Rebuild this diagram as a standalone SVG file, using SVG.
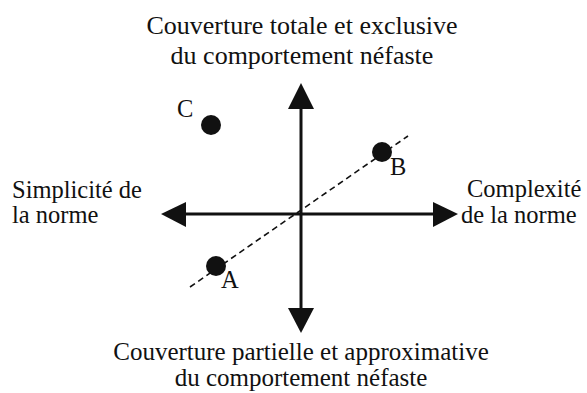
<svg xmlns="http://www.w3.org/2000/svg" width="587" height="393" viewBox="0 0 587 393">
<style>
text{font-family:"Liberation Serif","Times New Roman",serif;font-size:26px;fill:#111}
.side{font-size:24.5px}
.bot{font-size:25px}
.ax{stroke:#111;stroke-width:3;fill:none}
.hd{fill:#111}
.dot{fill:#111}
.dash{stroke:#111;stroke-width:1.6;stroke-dasharray:6,4;fill:none}
</style>
<rect width="587" height="393" fill="#fff"/>
<g id="connectors">
<line class="dash" x1="190" y1="287" x2="408" y2="136"/>
<line class="ax" x1="301" y1="105" x2="301" y2="312"/>
<line class="ax" x1="182" y1="214" x2="438" y2="214"/>
<polygon class="hd" points="301,83 288,109 314,109"/>
<polygon class="hd" points="301,333 288,308 314,308"/>
<polygon class="hd" points="161,214 186,202 186,227"/>
<polygon class="hd" points="458,214 433,202 433,227"/>
</g>
<g id="label-top"><text x="302" y="34" text-anchor="middle">Couverture totale et exclusive</text><text x="302" y="64" text-anchor="middle">du comportement néfaste</text></g>
<g id="label-bottom"><text class="bot" x="301" y="360" text-anchor="middle">Couverture partielle et approximative</text><text class="bot" x="301" y="386" text-anchor="middle">du comportement néfaste</text></g>
<g id="label-left"><text class="side" x="12" y="198">Simplicité de</text><text class="side" x="12" y="223">la norme</text></g>
<g id="label-right"><text class="side" x="467" y="197">Complexité</text><text class="side" x="461" y="223">de la norme</text></g>
<g id="node-C"><circle class="dot" cx="211" cy="125" r="10"/><text class="side" x="177" y="117">C</text></g>
<g id="node-B"><circle class="dot" cx="382" cy="152" r="10"/><text class="side" x="390" y="175">B</text></g>
<g id="node-A"><circle class="dot" cx="216" cy="266" r="10"/><text class="side" x="221" y="288">A</text></g>
</svg>
